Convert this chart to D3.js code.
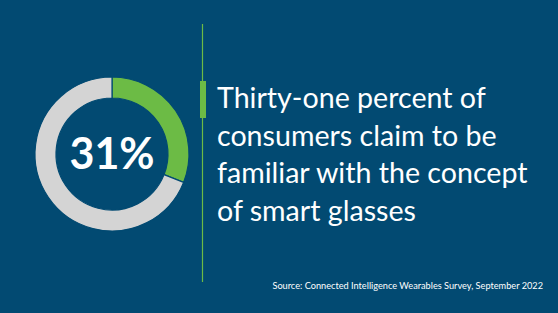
<!DOCTYPE html>
<html>
<head>
<meta charset="utf-8">
<script src="https://cdn.jsdelivr.net/npm/d3@7.9.0/dist/d3.min.js"></script>
<style>
  html, body { margin: 0; padding: 0; background: #024a72; }
  svg { display: block; }
</style>
</head>
<body>
<div id="chart"></div>
<script>
// data
const categories = ['Familiar', 'Not familiar'];
const values = [31, 69];
const headline = '31%';
const captionLines = [
  'Thirty-one percent of',
  'consumers claim to be',
  'familiar with the concept',
  'of smart glasses'
];
const source = 'Source: Connected Intelligence Wearables Survey, September 2022';

const W = 558, H = 313;
const bg = '#024a72';
const green = '#6cbb45';
const grey = '#d4d4d4';

const svg = d3.select('#chart')
  .append('svg')
  .attr('width', W)
  .attr('height', H);

svg.append('rect').attr('width', W).attr('height', H).attr('fill', bg);

/* donut */
const cx = 112, cy = 154;
const pie = d3.pie().sort(null).value(d => d);
const arc = d3.arc().innerRadius(56).outerRadius(77);
const color = d3.scaleOrdinal().domain(categories).range([green, grey]);

const g = svg.append('g').attr('transform', `translate(${cx},${cy})`);
g.selectAll('path')
  .data(pie(values))
  .join('path')
  .attr('d', arc)
  .attr('fill', (d, i) => color(categories[i]))
  .attr('stroke', bg)
  .attr('stroke-width', 1.2);

g.append('text')
  .attr('text-anchor', 'middle')
  .attr('dy', '0.36em')
  .attr('fill', '#fff')
  .attr('font-family', 'Lato, sans-serif')
  .attr('font-weight', 700)
  .attr('font-size', 43)
  .text(headline);

/* divider */
svg.append('line')
  .attr('x1', 202.5).attr('x2', 202.5)
  .attr('y1', 24).attr('y2', 282)
  .attr('stroke', green)
  .attr('stroke-width', 1.2);
svg.append('rect')
  .attr('x', 200).attr('y', 81)
  .attr('width', 6).attr('height', 37)
  .attr('fill', green);

/* caption */
const lineY = d3.scaleLinear().domain([0, 1]).range([108, 145.5]);
svg.append('g')
  .selectAll('text')
  .data(captionLines)
  .join('text')
  .attr('x', 217)
  .attr('y', (d, i) => lineY(i))
  .attr('fill', '#fff')
  .attr('font-family', 'Lato, sans-serif')
  .attr('font-size', 28.6)
  .text(d => d);

svg.append('text')
  .attr('x', 543)
  .attr('y', 289)
  .attr('text-anchor', 'end')
  .attr('fill', '#fff')
  .attr('font-family', 'Lato, sans-serif')
  .attr('font-size', 9.2)
  .text(source);
</script>
</body>
</html>
